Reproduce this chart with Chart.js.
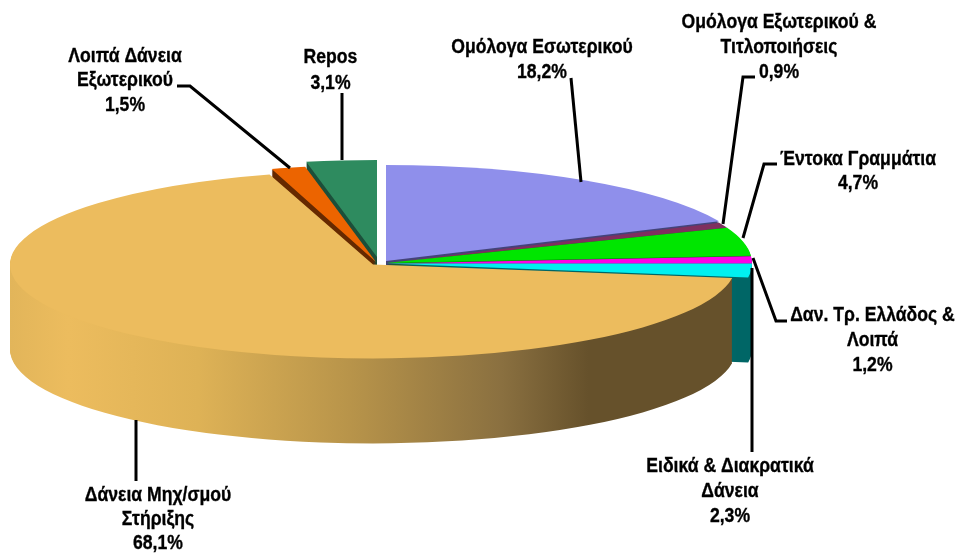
<!DOCTYPE html>
<html>
<head>
<meta charset="utf-8">
<style>
  html, body { margin: 0; padding: 0; background: #fff; }
  #wrap { width: 960px; height: 554px; }
</style>
<script src="https://cdn.jsdelivr.net/npm/chart.js@4"></script>
</head>
<body>
<div id="wrap"><canvas id="myChart" width="960" height="554"></canvas></div>
<script>
const categories = [
    'Ομόλογα Εσωτερικού',
    'Ομόλογα Εξωτερικού &\nΤιτλοποιήσεις',
    'Έντοκα Γραμμάτια',
    'Δαν. Τρ. Ελλάδος &\nΛοιπά',
    'Ειδικά & Διακρατικά\nΔάνεια',
    'Δάνεια Μηχ/σμού\nΣτήριξης',
    'Λοιπά Δάνεια\nΕξωτερικού',
    'Repos'
];
const values = [18.2, 0.9, 4.7, 1.2, 2.3, 68.1, 1.5, 3.1];

const topColors = ['#8F8FEB', '#7F2F5F', '#00E600', '#FF00E6', '#00F0F0', '#ECBC5E', '#EC6400', '#2E8B5F'];
const wallColors = ['#44447A', '#4A1B38', '#007A00', '#8A007C', '#006666', null, '#662900', '#1D4F3A'];

// pie geometry on the page
const RADIUS = 366;
const TILT = 97 / 366;
const DEPTH = 85;
// exploded slices: shift in px, plus x/y squash of that slice
const explode = [
    { dx: 1, dy: -1, sx: 1, sy: 96 / 97 },
    { dx: 1, dy: 1, sx: 1, sy: 1 },
    { dx: 1, dy: 1, sx: 1, sy: 1 },
    { dx: 1, dy: 1.5, sx: 1, sy: 1 },
    { dx: 1, dy: 1.5, sx: 1, sy: 1 },
    { dx: -12, dy: 2.5, sx: 363 / 366, sy: 94 / 97 },
    { dx: -9, dy: 0, sx: 1, sy: 1 },
    { dx: -8, dy: -5, sx: 1, sy: 1 }
];
// back to front
const drawOrder = [7, 6, 0, 1, 2, 3, 4, 5];

const labelBoxes = [
    { x: 542, y: 47, gap: 25 },
    { x: 779, y: 22, gap: 25 },
    { x: 858, y: 159, gap: 24 },
    { x: 872.5, y: 315, gap: 25 },
    { x: 730, y: 466, gap: 25 },
    { x: 158, y: 495, gap: 24 },
    { x: 125, y: 56, gap: 24.5 },
    { x: 330.5, y: 57, gap: 26 }
];
const leaders = [
    [[571, 78], [581, 182]],
    [[755, 77], [743, 77], [723, 224]],
    [[777, 164], [764, 164], [743, 238]],
    [[753, 258], [776, 321], [787, 321]],
    [[752, 268], [752, 452]],
    [[136, 420], [136, 481]],
    [[177, 86], [190, 86], [290, 168]],
    [[342, 93], [342, 160]]
];

function wallGradient(ctx) {
    const g = ctx.createLinearGradient(10, 0, 733, 0);
    g.addColorStop(0, '#E2B55A');
    g.addColorStop(0.08, '#ECBC5E');
    g.addColorStop(0.26, '#DEB256');
    g.addColorStop(0.47, '#B8944A');
    g.addColorStop(0.68, '#8A7040');
    g.addColorStop(0.80, '#66512B');
    g.addColorStop(1, '#66512B');
    return g;
}

function drawSlice(ctx, arc, i) {
    const e = explode[i];
    const props = arc.getProps(['x', 'y', 'startAngle', 'endAngle', 'outerRadius'], true);
    const cx = props.x + e.dx;
    const cy = props.y + e.dy;
    const rx = props.outerRadius * e.sx;
    const ry = props.outerRadius * TILT * e.sy;

    // side wall: same outline stacked downwards
    ctx.fillStyle = wallColors[i] || wallGradient(ctx);
    for (let d = DEPTH; d >= 1; d--) {
        ctx.beginPath();
        ctx.moveTo(cx, cy + d);
        ctx.ellipse(cx, cy + d, rx, ry, 0, props.startAngle, props.endAngle);
        ctx.closePath();
        ctx.fill();
    }

    // top face: the library draws it, squashed
    ctx.save();
    ctx.translate(cx, cy);
    ctx.scale(e.sx, TILT * e.sy);
    ctx.translate(-props.x, -props.y);
    arc.draw(ctx);
    ctx.restore();
}

const pie3d = {
    id: 'pie3d',
    beforeDatasetsDraw(chart) {
        const arcs = chart.getDatasetMeta(0).data;
        drawOrder.forEach(i => drawSlice(chart.ctx, arcs[i], i));
        return false;
    },
    afterDraw(chart) {
        const ctx = chart.ctx;
        ctx.save();
        ctx.strokeStyle = '#000';
        ctx.lineWidth = 3;
        ctx.lineJoin = 'miter';
        leaders.forEach(pts => {
            ctx.beginPath();
            pts.forEach((p, k) => k ? ctx.lineTo(p[0], p[1]) : ctx.moveTo(p[0], p[1]));
            ctx.stroke();
        });

        ctx.fillStyle = '#000';
        ctx.font = 'bold 20px "Liberation Sans"';
        ctx.textAlign = 'center';
        ctx.textBaseline = 'middle';
        ctx.lineWidth = 0.35;
        categories.forEach((name, i) => {
            const pct = values[i].toFixed(1).replace('.', ',') + '%';
            const lines = name.split('\n').concat(pct);
            const box = labelBoxes[i];
            lines.forEach((line, k) => {
                // the original type is a bit narrower than the bold face
                ctx.save();
                ctx.translate(box.x, box.y + k * box.gap);
                ctx.scale(0.88, 1);
                ctx.fillText(line, 0, 0);
                ctx.strokeText(line, 0, 0);
                ctx.restore();
            });
        });
        ctx.restore();
    }
};

const ctx = document.getElementById('myChart').getContext('2d');
const chart = new Chart(ctx, {
    type: 'pie',
    data: {
        labels: categories,
        datasets: [{
            data: values,
            backgroundColor: topColors,
            borderWidth: 0
        }]
    },
    options: {
        responsive: false,
        animation: false,
        radius: RADIUS,
        layout: { padding: { right: 190, bottom: 30 } },
        plugins: { legend: { display: false }, tooltip: { enabled: false } }
    },
    plugins: [pie3d]
});
</script>
</body>
</html>
